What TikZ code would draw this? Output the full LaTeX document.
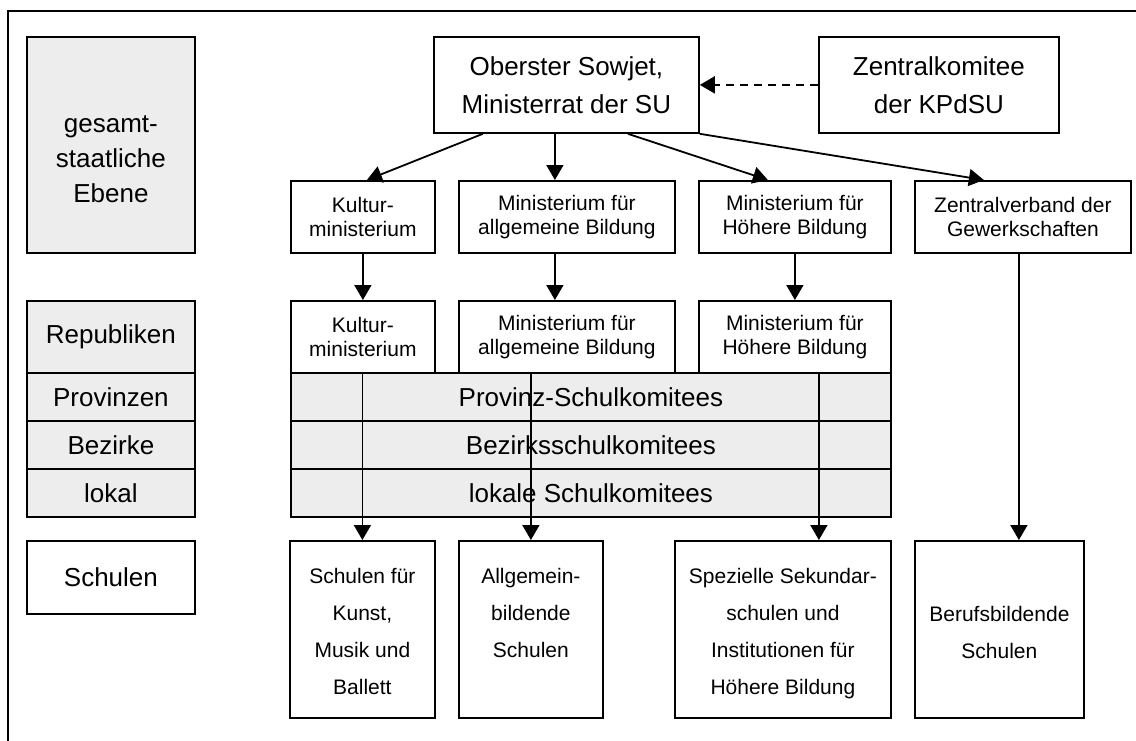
\documentclass[tikz,border=0pt]{standalone}
\usepackage{fontspec}
\setmainfont{Liberation Sans}
\usetikzlibrary{arrows.meta}

\tikzset{
  box/.style={draw, line width=1.8pt, anchor=north west, inner sep=0pt, align=center, fill=white},
  shadebox/.style={box, fill=black!7},
  bigfont/.style={font=\fontsize{26}{38}\selectfont},
  levelfont/.style={font=\fontsize{26}{35}\selectfont},
  smallfont/.style={font=\fontsize{21}{24}\selectfont},
  schooltext/.style={font=\fontsize{21}{37}\selectfont, align=center, anchor=north, inner sep=0pt},
  arr/.style={-{Triangle[length=15pt,width=17pt]}, line width=1.8pt},
}

\begin{document}
\begin{tikzpicture}[x=1pt, y=-1pt]
\useasboundingbox (0,0) rectangle (1136,740);
\clip (0,0) rectangle (1136,740);

%outer frame
\draw[line width=2pt] (8,11) rectangle (1170,770);

%levels on the left
\node[shadebox, minimum width=168pt, minimum height=216pt] (gesamt) at (26,36) {};
\node[levelfont, align=center] (gesamttext) at ([yshift=-14pt]gesamt.center) {gesamt-\\staatliche\\Ebene};
\node[shadebox, bigfont, minimum width=168pt, minimum height=72pt] (rep) at (26,300) {Republiken};
\node[shadebox, bigfont, minimum width=168pt, minimum height=48pt] (prov) at (26,372) {Provinzen};
\node[shadebox, bigfont, minimum width=168pt, minimum height=48pt] (bez) at (26,420) {Bezirke};
\node[shadebox, bigfont, minimum width=168pt, minimum height=48pt] (lok) at (26,468) {lokal};
\node[box, bigfont, minimum width=168pt, minimum height=73pt] (schul) at (26,540) {Schulen};

%top
\node[box, bigfont, minimum width=265pt, minimum height=96pt] (ober) at (433,36) {Oberster Sowjet,\\Ministerrat der SU};
\node[box, bigfont, minimum width=240pt, minimum height=96pt] (zk) at (818,36) {Zentralkomitee\\der KPdSU};

%ministries, union level
\node[box, smallfont, minimum width=144pt, minimum height=72pt] (kultur2) at (290,180) {Kultur-\\ministerium};
\node[box, smallfont, minimum width=216pt, minimum height=72pt] (allg2) at (458,180) {Ministerium für\\allgemeine Bildung};
\node[box, smallfont, minimum width=192pt, minimum height=72pt] (hoeh2) at (698,180) {Ministerium für\\Höhere Bildung};
\node[box, smallfont, minimum width=216pt, minimum height=72pt] (zverb) at (914,180) {Zentralverband der\\Gewerkschaften};

%ministries, republics
\node[box, smallfont, minimum width=144pt, minimum height=72pt] (kultur3) at (290,300) {Kultur-\\ministerium};
\node[box, smallfont, minimum width=216pt, minimum height=72pt] (allg3) at (458,300) {Ministerium für\\allgemeine Bildung};
\node[box, smallfont, minimum width=192pt, minimum height=72pt] (hoeh3) at (698,300) {Ministerium für\\Höhere Bildung};

%school committees
\node[shadebox, bigfont, minimum width=600pt, minimum height=48pt] (provk) at (290,372) {Provinz-Schulkomitees};
\node[shadebox, bigfont, minimum width=600pt, minimum height=48pt] (bezk) at (290,420) {Bezirksschulkomitees};
\node[shadebox, bigfont, minimum width=600pt, minimum height=48pt] (lokk) at (290,468) {lokale Schulkomitees};

%schools
\node[box, minimum width=145pt, minimum height=177pt] (kunst) at (289,540) {};
\node[box, minimum width=144pt, minimum height=177pt] (allgs) at (458,540) {};
\node[box, minimum width=216pt, minimum height=177pt] (spez) at (674,540) {};
\node[box, minimum width=169pt, minimum height=177pt] (beruf) at (914,540) {};
\node[schooltext] (kunsttext) at ([yshift=-28pt]kunst.north) {Schulen für\\Kunst,\\Musik und\\Ballett};
\node[schooltext] (allgstext) at ([yshift=-28pt]allgs.north) {Allgemein-\\bildende\\Schulen};
\node[schooltext] (speztext) at ([yshift=-28pt]spez.north) {Spezielle Sekundar-\\schulen und\\Institutionen für\\Höhere Bildung};
\node[schooltext] (beruftext) at ([yshift=-66pt]beruf.north) {Berufsbildende\\Schulen};

%arrows
\draw[arr, dash pattern=on 8pt off 6pt] (zk.west) -- (ober.east);
\draw[arr] ([xshift=-83.5pt]ober.south) -- ([xshift=4pt]kultur2.north);
\draw[arr] ([xshift=-11.5pt]ober.south) -- ([xshift=-12pt]allg2.north);
\draw[arr] ([xshift=61.5pt]ober.south) -- ([xshift=-27pt]hoeh2.north);
\draw[arr] (ober.south east) -- ([xshift=-39pt]zverb.north);

\draw[arr] (kultur2.south) -- (kultur3.north);
\draw[arr] ([xshift=-12pt]allg2.south) -- ([xshift=-12pt]allg3.north);
\draw[arr] (hoeh2.south) -- (hoeh3.north);

\draw[arr] (kunst.north |- kultur3.south) -- (kunst.north);
\draw[arr] (allgs.north |- allg3.south) -- (allgs.north);
\draw[arr] ([xshift=36pt]spez.north |- hoeh3.south) -- ([xshift=36pt]spez.north);
\draw[arr] ([xshift=-4pt]zverb.south) -- ([xshift=19.5pt]beruf.north);

\end{tikzpicture}
\end{document}
